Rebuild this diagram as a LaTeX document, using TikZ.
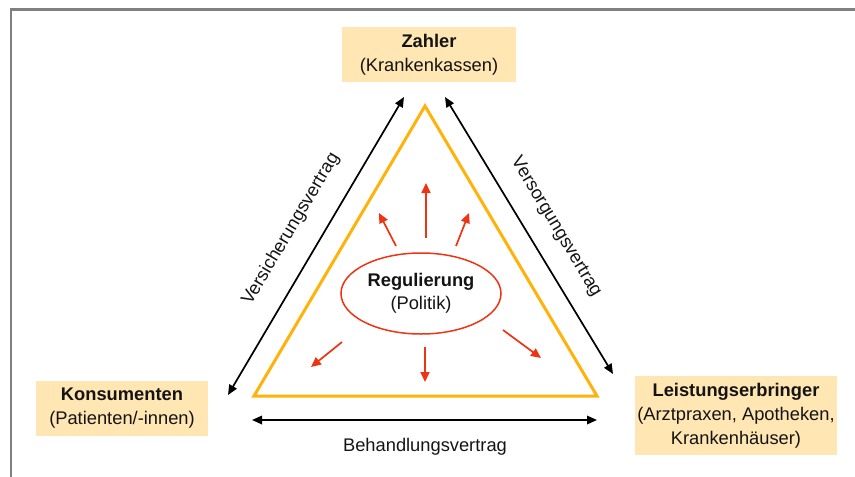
\documentclass[tikz,border=0pt]{standalone}
\usepackage{fontspec}
\setmainfont{Liberation Sans}
\usetikzlibrary{arrows.meta,shapes.geometric}
\definecolor{boxfill}{HTML}{FFE6B3}
\definecolor{tri}{HTML}{FFB20A}
\definecolor{regred}{HTML}{EE3412}
\definecolor{txt}{HTML}{141414}
\tikzset{
  actor/.style={fill=boxfill, draw=none, align=center, inner sep=0pt, text=txt,
    font=\fontsize{18.3}{24}\selectfont},
  contract/.style={draw=black, line width=1.7pt, {Triangle[length=10pt,width=8.5pt]}-{Triangle[length=10pt,width=8.5pt]}},
  ctext/.style={text=txt, inner sep=0pt, font=\fontsize{18.3}{22}\selectfont},
  regarrow/.style={draw=regred, line width=1.7pt, -{Triangle[length=10pt,width=9pt]}},
}
\begin{document}
\begin{tikzpicture}[x=1pt,y=-1pt]
\useasboundingbox (0,0) rectangle (855,477);
% frame
\draw[draw={rgb,255:red,128;green,128;blue,128}, line width=2.6pt] (11,478) -- (11,9.5) -- (856,9.5);

% actors
\node[actor, minimum width=174pt, minimum height=55pt] (zahler) at (429,54.5)
  {\textbf{Zahler}\\(Krankenkassen)};
\node[actor, minimum width=172pt, minimum height=55pt] (konsu) at (122,408.5)
  {\textbf{Konsumenten}\\(Patienten/-innen)};
\node[actor, minimum width=202pt, minimum height=79pt] (leist) at (736,415.5)
  {\textbf{Leistungserbringer}\\(Arztpraxen, Apotheken,\\Krankenhäuser)};

% triangle
\coordinate (ta) at (425,106);
\coordinate (tl) at (254,396);
\coordinate (tr) at (597,396);
\draw[draw=tri, line width=3pt, line join=miter] (ta) -- (tl) -- (tr) -- cycle;

% regulation ellipse
\node[ellipse, draw=regred, line width=1.5pt, minimum width=160pt, minimum height=81pt,
  align=center, inner sep=0pt, text=txt, font=\fontsize{18.3}{23}\selectfont] (reg) at (421,293.5)
  {\textbf{Regulierung}\\(Politik)};

% contracts
\coordinate (v1) at (228,395);
\coordinate (v2) at (404,97);
\coordinate (s1) at (445,97);
\coordinate (s2) at (613,374);
\coordinate (b1) at (252,420);
\coordinate (b2) at (597,420);
\draw[contract] (v1) -- (v2);
\draw[contract] (s1) -- (s2);
\draw[contract] (b1) -- (b2);
\node[ctext, rotate=59.3] (vlab) at (291,229) {Versicherungsvertrag};
\node[ctext, rotate=-59] (slab) at (556,227) {Versorgungsvertrag};
\node[ctext] (blab) at (425,447) {Behandlungsvertrag};

% regulation arrows
\coordinate (r1s) at (426,238); \coordinate (r1e) at (426,183);
\coordinate (r2s) at (396,246); \coordinate (r2e) at (379,213);
\coordinate (r3s) at (456,246); \coordinate (r3e) at (469,213);
\coordinate (r4s) at (342,342); \coordinate (r4e) at (311,367);
\coordinate (r5s) at (425,347); \coordinate (r5e) at (425,382);
\coordinate (r6s) at (503,330); \coordinate (r6e) at (541,358);
\draw[regarrow] (r1s) -- (r1e);
\draw[regarrow] (r2s) -- (r2e);
\draw[regarrow] (r3s) -- (r3e);
\draw[regarrow] (r4s) -- (r4e);
\draw[regarrow] (r5s) -- (r5e);
\draw[regarrow] (r6s) -- (r6e);
\end{tikzpicture}
\end{document}
